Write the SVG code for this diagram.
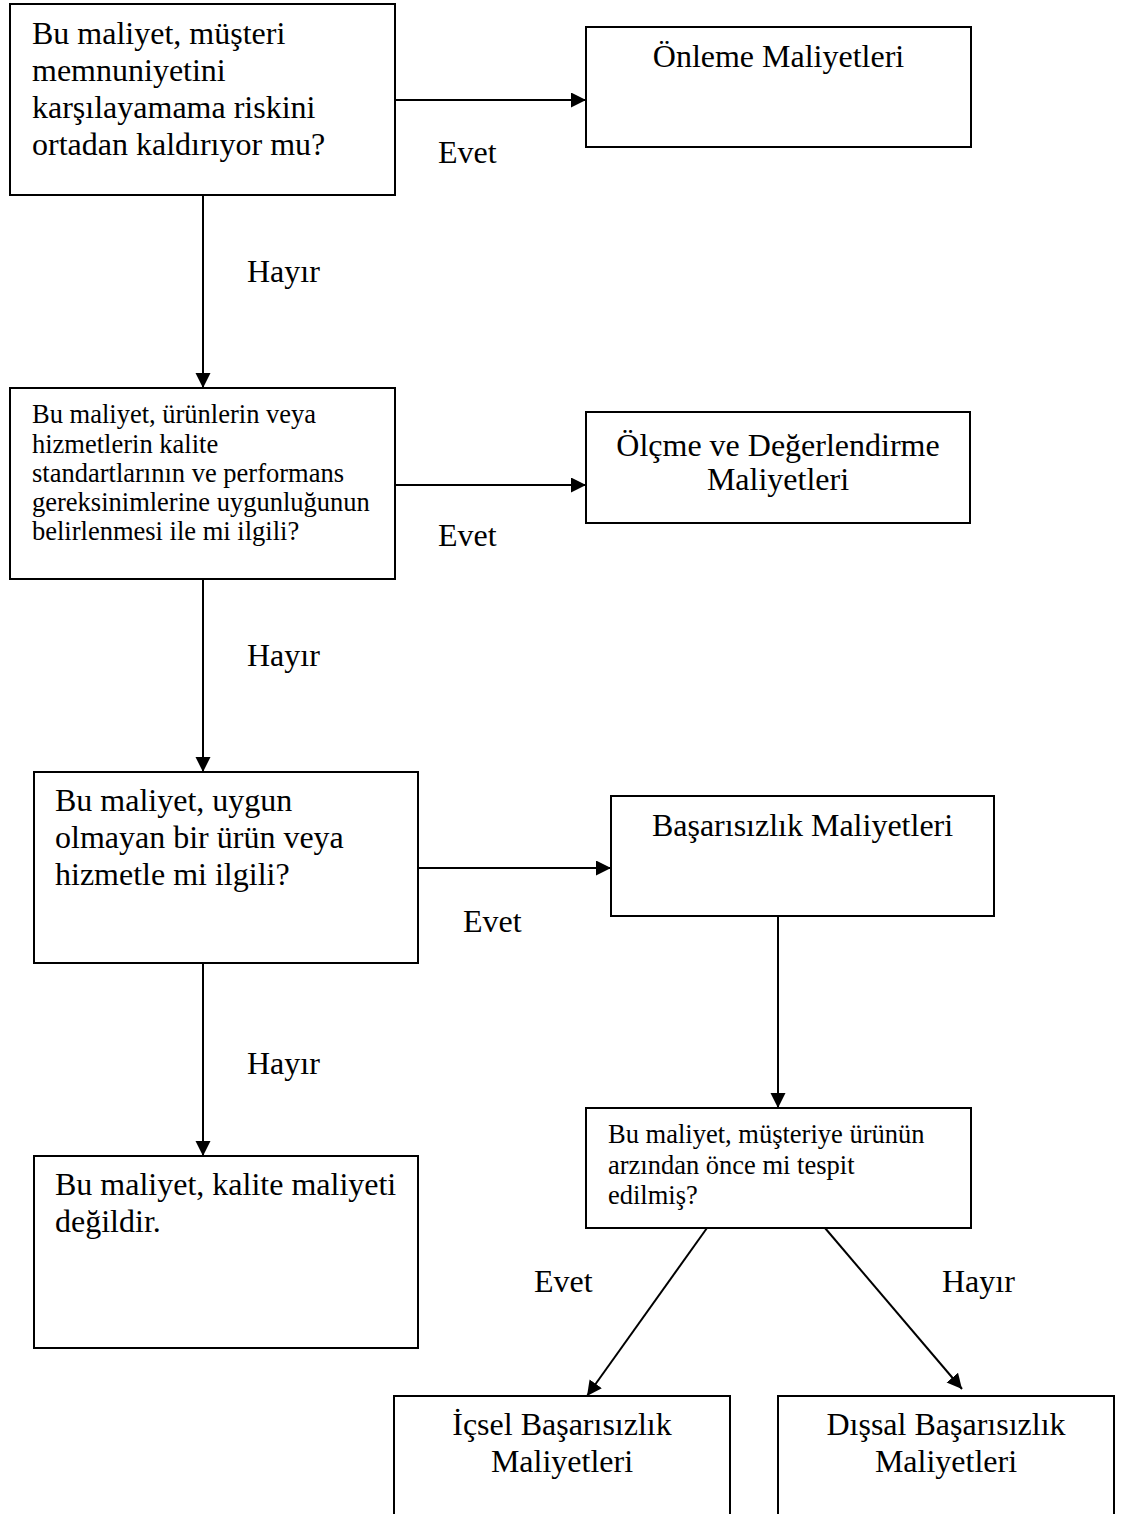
<svg xmlns="http://www.w3.org/2000/svg" width="1130" height="1514" viewBox="0 0 1130 1514">
<style>
  .box { fill: #ffffff; stroke: #000000; stroke-width: 2; }
  .t { font-family: "Liberation Serif", "Times New Roman", serif; font-size: 32px; fill: #000000; }
  .s { font-family: "Liberation Serif", "Times New Roman", serif; font-size: 26.5px; fill: #000000; }
  .c { text-anchor: middle; }
  .conn { stroke: #000000; stroke-width: 2; fill: none; marker-end: url(#arrow); }
  .plain { stroke: #000000; stroke-width: 2; fill: none; }
</style>
<defs>
  <marker id="arrow" markerUnits="userSpaceOnUse" markerWidth="16" markerHeight="16" refX="15" refY="7.5" orient="auto">
    <path d="M0,0 L15,7.5 L0,15 z" fill="#000000"/>
  </marker>
</defs>
<rect width="1130" height="1514" fill="#ffffff"/>

<g id="connectors">
  <line class="conn" x1="395" y1="100" x2="586" y2="100"/>
  <line class="conn" x1="203" y1="195" x2="203" y2="388"/>
  <line class="conn" x1="395" y1="485" x2="586" y2="485"/>
  <line class="conn" x1="203" y1="579" x2="203" y2="772"/>
  <line class="conn" x1="418" y1="868" x2="611" y2="868"/>
  <line class="conn" x1="203" y1="963" x2="203" y2="1156"/>
  <line class="conn" x1="778" y1="916" x2="778" y2="1108"/>
  <line class="conn" x1="707" y1="1228" x2="587" y2="1396"/>
  <line class="conn" x1="825" y1="1228" x2="962" y2="1389"/>
  <text class="t" x="438" y="163">Evet</text>
  <text class="t" x="247" y="282">Hayır</text>
  <text class="t" x="438" y="546">Evet</text>
  <text class="t" x="247" y="666">Hayır</text>
  <text class="t" x="463" y="932">Evet</text>
  <text class="t" x="247" y="1074">Hayır</text>
  <text class="t" x="534" y="1292">Evet</text>
  <text class="t" x="942" y="1292">Hayır</text>
</g>

<g id="q1">
  <rect class="box" x="10" y="4" width="385" height="191"/>
  <text class="t" x="32" y="44">Bu maliyet, müşteri</text>
  <text class="t" x="32" y="81">memnuniyetini</text>
  <text class="t" x="32" y="118">karşılayamama riskini</text>
  <text class="t" x="32" y="155">ortadan kaldırıyor mu?</text>
</g>

<g id="onleme">
  <rect class="box" x="586" y="27" width="385" height="120"/>
  <text class="t c" x="778.5" y="67">Önleme Maliyetleri</text>
</g>

<g id="q2">
  <rect class="box" x="10" y="388" width="385" height="191"/>
  <text class="s" x="32" y="423">Bu maliyet, ürünlerin veya</text>
  <text class="s" x="32" y="453">hizmetlerin kalite</text>
  <text class="s" x="32" y="482">standartlarının ve performans</text>
  <text class="s" x="32" y="511">gereksinimlerine uygunluğunun</text>
  <text class="s" x="32" y="540">belirlenmesi ile mi ilgili?</text>
</g>

<g id="olcme">
  <rect class="box" x="586" y="412" width="384" height="111"/>
  <text class="t c" x="778" y="456">Ölçme ve Değerlendirme</text>
  <text class="t c" x="778" y="490">Maliyetleri</text>
</g>

<g id="q3">
  <rect class="box" x="34" y="772" width="384" height="191"/>
  <text class="t" x="55" y="811">Bu maliyet, uygun</text>
  <text class="t" x="55" y="848">olmayan bir ürün veya</text>
  <text class="t" x="55" y="885">hizmetle mi ilgili?</text>
</g>

<g id="basarisizlik">
  <rect class="box" x="611" y="796" width="383" height="120"/>
  <text class="t c" x="802.5" y="836">Başarısızlık Maliyetleri</text>
</g>

<g id="degil">
  <rect class="box" x="34" y="1156" width="384" height="192"/>
  <text class="t" x="55" y="1195">Bu maliyet, kalite maliyeti</text>
  <text class="t" x="55" y="1232">değildir.</text>
</g>

<g id="q4">
  <rect class="box" x="586" y="1108" width="385" height="120"/>
  <text class="s" x="608" y="1143">Bu maliyet, müşteriye ürünün</text>
  <text class="s" x="608" y="1174">arzından önce mi tespit</text>
  <text class="s" x="608" y="1204">edilmiş?</text>
</g>

<g id="icsel">
  <rect class="box" x="394" y="1396" width="336" height="140"/>
  <text class="t c" x="562" y="1435">İçsel Başarısızlık</text>
  <text class="t c" x="562" y="1472">Maliyetleri</text>
</g>

<g id="dissal">
  <rect class="box" x="778" y="1396" width="336" height="140"/>
  <text class="t c" x="946" y="1435">Dışsal Başarısızlık</text>
  <text class="t c" x="946" y="1472">Maliyetleri</text>
</g>
</svg>
